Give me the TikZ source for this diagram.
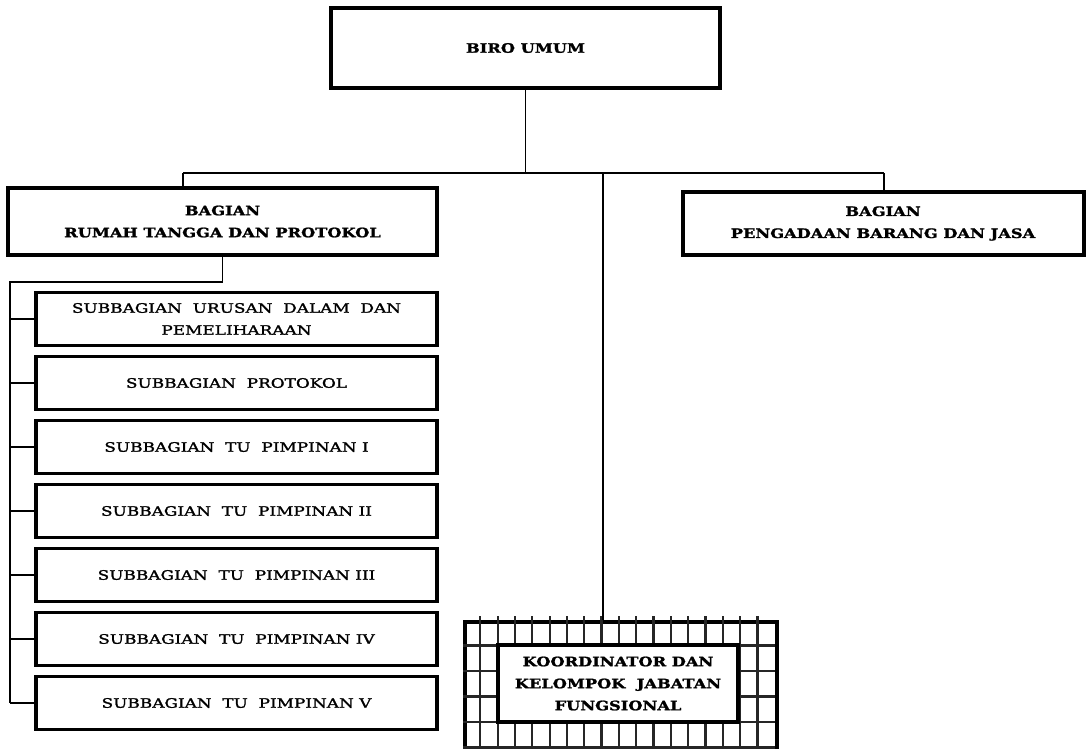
\documentclass[tikz,border=0pt]{standalone}
\usepackage{fontspec}
\newfontfamily\orgfont{DejaVu Serif}[FakeStretch=1.25, FakeBold=1.5]
\newfontfamily\subfont{DejaVu Serif}[FakeStretch=1.3, FakeBold=1.6]
\usetikzlibrary{positioning}

\begin{document}
\begin{tikzpicture}[x=1pt, y=-1pt,
  unit/.style={rectangle, draw, line width=4pt, align=center, font=\orgfont\bfseries\fontsize{13}{22}\selectfont},
  subunit/.style={rectangle, draw, line width=3.6pt, minimum width=401pt, minimum height=53pt, align=center, font=\subfont\fontsize{13}{22}\selectfont},
  link/.style={line width=1.8pt},
  gridline/.style={line width=2.3pt, draw=black!85}
]
  \useasboundingbox (0,0) rectangle (1086,748);

  \node[unit, minimum width=389pt, minimum height=80pt] (biro) at (525.5,48) {BIRO UMUM};
  \node[unit, minimum width=429pt, minimum height=67pt] (rt) at (222.5,221.5) {BAGIAN\\RUMAH TANGGA DAN PROTOKOL};
  \node[unit, minimum width=401pt, minimum height=63pt] (pbj) at (883,223.5) {BAGIAN\\PENGADAAN BARANG DAN JASA};

  % subbagian
  \foreach \i/\txt in {1/{SUBBAGIAN\ \ URUSAN\ \ DALAM\ \ DAN\\PEMELIHARAAN},
                       2/{SUBBAGIAN\ \ PROTOKOL},
                       3/{SUBBAGIAN\ \ TU\ \ PIMPINAN I},
                       4/{SUBBAGIAN\ \ TU\ \ PIMPINAN II},
                       5/{SUBBAGIAN\ \ TU\ \ PIMPINAN III},
                       6/{SUBBAGIAN\ \ TU\ \ PIMPINAN IV},
                       7/{SUBBAGIAN\ \ TU\ \ PIMPINAN V}}
    \node[subunit] (s\i) at (236.5,{319+64*(\i-1)}) {\txt};

  % kelompok jabatan fungsional
  \node[rectangle, draw, line width=4pt, minimum width=312pt, minimum height=140pt, anchor=north west, inner sep=0pt] (koorbox) at (463,620) {};
  \begin{scope}[shift={(463,620)}]
    \foreach \k in {1,...,17} \draw[gridline] ({\k*17.33},-4) -- ({\k*17.33},140);
    \foreach \k in {1,...,5} \draw[gridline] (0,{\k*25.5}) -- (312,{\k*25.5});
  \end{scope}
  \node[unit, fill=white, minimum width=240pt, minimum height=77pt] (koor) at (618,683.5) {KOORDINATOR DAN\\KELOMPOK\ \ JABATAN\\FUNGSIONAL};

  \coordinate (busL) at (183,173);
  \coordinate (busM) at (603,173);
  \coordinate (busR) at (884,173);
  \coordinate (trunk) at (10,282);

  \draw[link] (biro.south) -- (biro.south |- busM);
  \draw[link] (busL) -- (busR);
  \draw[link] (busL) -- (busL |- rt.north);
  \draw[link] (busR) -- (busR |- pbj.north);
  \draw[link] (busM) -- (busM |- koorbox.north);
  \draw[link] (rt.south) -- (rt.south |- trunk) -- (trunk) -- (trunk |- s7.west);
  \foreach \i in {1,...,7}
    \draw[link] (trunk |- s\i.west) -- (s\i.west);
\end{tikzpicture}
\end{document}
